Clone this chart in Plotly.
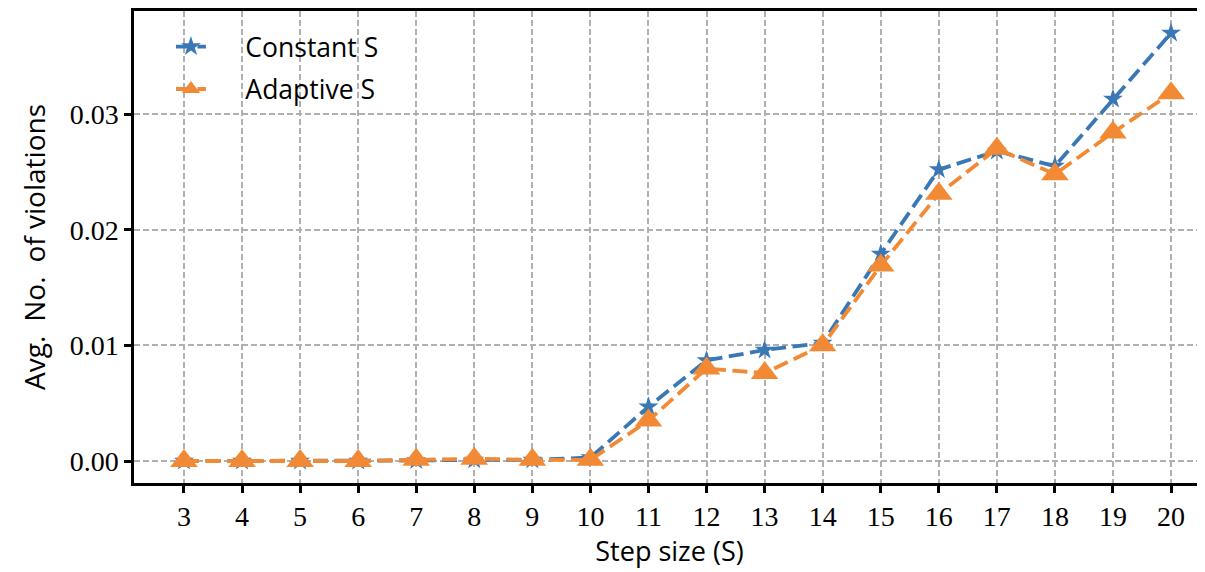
import plotly.graph_objects as go

step_sizes = [3, 4, 5, 6, 7, 8, 9, 10, 11, 12, 13, 14, 15, 16, 17, 18, 19, 20]
constant_s = [0.0, 0.0, 0.0, 0.0, 0.00005, 0.0001, 0.0001, 0.0003, 0.0047, 0.0087, 0.0096, 0.0102,
              0.0179, 0.0252, 0.0268, 0.0255, 0.0313, 0.0370]
adaptive_s = [0.0, 0.0, 0.0, 0.0, 0.0001, 0.0002, 0.0001, 0.0001, 0.0035, 0.0080, 0.0076, 0.0100,
              0.0169, 0.0231, 0.0270, 0.0248, 0.0284, 0.0318]
y_ticks = [0.0, 0.01, 0.02, 0.03]
y_tick_labels = ["0.00", "0.01", "0.02", "0.03"]

BLUE = "#3a78b5"
ORANGE = "#f28a35"
NB = "\u00a0"

fig = go.Figure()
fig.add_trace(go.Scatter(
    x=step_sizes, y=constant_s, name=NB * 5 + "Constant S", mode="lines+markers",
    legendgroup="a",
    line=dict(color=BLUE, width=3.8, dash="15px,6.5px"),
    marker=dict(symbol="star", size=15, color=BLUE, line=dict(width=0)),
))
fig.add_trace(go.Scatter(
    x=step_sizes, y=adaptive_s, name=NB * 5 + "Adaptive S", mode="lines+markers",
    legendgroup="b",
    line=dict(color=ORANGE, width=3.8, dash="15px,6.5px"),
    marker=dict(symbol="triangle-up", size=24, color=ORANGE, line=dict(width=0)),
))

sans = "'Open Sans', Lato, sans-serif"
serif = "'Liberation Serif', serif"

fig.update_layout(
    width=1197, height=564,
    margin=dict(l=126, r=0, t=3, b=89),
    plot_bgcolor="white", paper_bgcolor="white",
    showlegend=True,
    legend=dict(x=0.0345, y=0.975, xanchor="left", yanchor="top",
                font=dict(family=sans, size=26.5, color="black"),
                bgcolor="rgba(255,255,255,0)", tracegroupgap=5, itemwidth=30),
)
fig.update_xaxes(
    range=[2.139, 20.585], tickmode="array", tickvals=step_sizes,
    ticktext=[str(s) for s in step_sizes], automargin=False,
    ticks="outside", ticklen=7, tickwidth=2.5, tickcolor="black",
    tickfont=dict(family=serif, size=28, color="black"),
    showline=True, linecolor="black", linewidth=2.5, mirror=True,
    showgrid=True, gridcolor="#b0b0b0", gridwidth=1.6, griddash="6px,3px",
    zeroline=False,
    title=dict(text="Step size (S)", font=dict(family=sans, size=27, color="black"), standoff=4),
)
fig.update_yaxes(
    range=[-0.0019, 0.03891], tickmode="array", tickvals=y_ticks, ticktext=y_tick_labels,
    automargin=False,
    ticks="outside", ticklen=7, tickwidth=2.5, tickcolor="black",
    tickfont=dict(family=serif, size=28, color="black"),
    showline=True, linecolor="black", linewidth=2.5, mirror=False,
    showgrid=True, gridcolor="#b0b0b0", gridwidth=1.6, griddash="6px,3px",
    zeroline=False,
    title=dict(text="Avg.\u2002No.\u2002of violations", font=dict(family=sans, size=28, color="black"),
               standoff=16),
)

fig.write_html("out.html")
